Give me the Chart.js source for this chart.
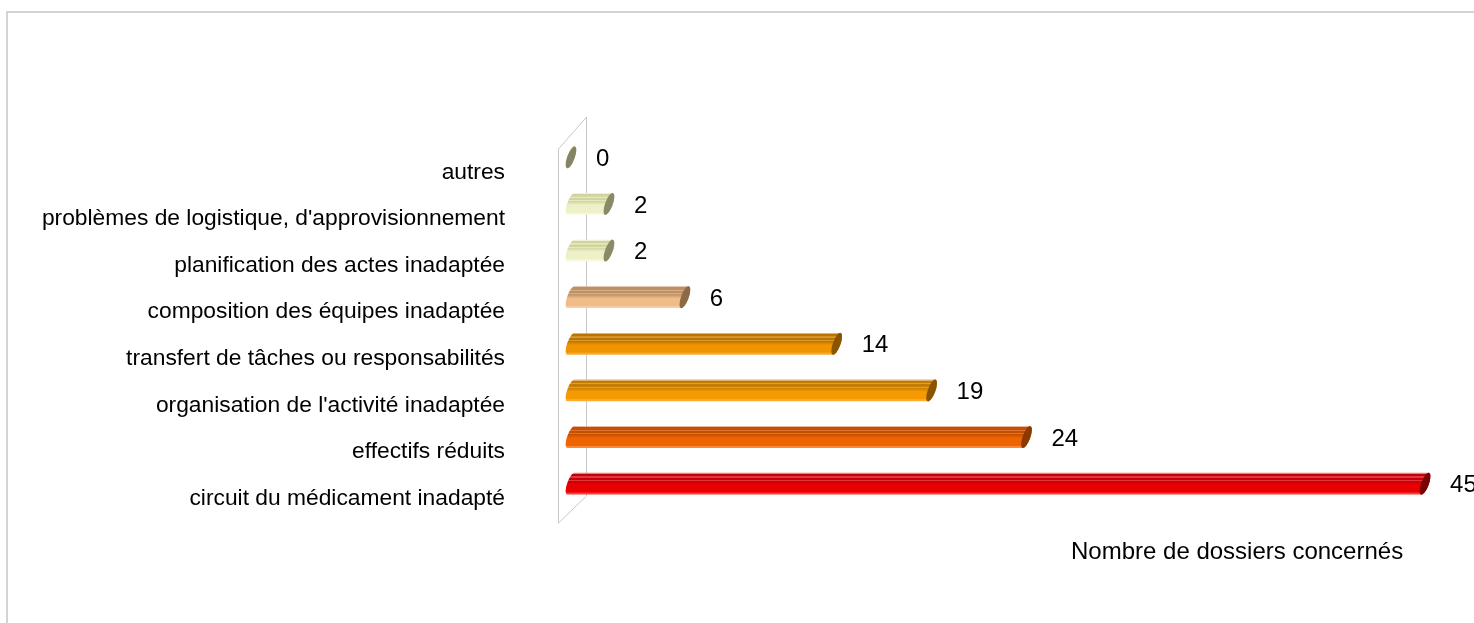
<!DOCTYPE html>
<html>
<head>
<meta charset="utf-8">
<script src="https://cdn.jsdelivr.net/npm/chart.js@4"></script>
<style>
  html, body { margin: 0; padding: 0; background: #fff; overflow: hidden; }
  #wrap { position: relative; width: 1474px; height: 623px; }
  #frame { position: absolute; left: 6px; top: 11px; width: 1500px; height: 700px;
           border-top: 2px solid #d4d4d4; border-left: 2px solid #d4d4d4; box-sizing: border-box; }
  canvas { position: absolute; left: 0; top: 0; }
</style>
</head>
<body>
<div id="wrap">
  <div id="frame"></div>
  <canvas id="c" width="1474" height="623"></canvas>
</div>
<script>
// ---- data ----
const categories = [
  "autres",
  "problèmes de logistique, d'approvisionnement",
  "planification des actes inadaptée",
  "composition des équipes inadaptée",
  "transfert de tâches ou responsabilités",
  "organisation de l'activité inadaptée",
  "effectifs réduits",
  "circuit du médicament inadapté"
];
const values = [0, 2, 2, 6, 14, 19, 24, 45];
const axisTitle = "Nombre de dossiers concernés";

// ---- styles ----
const palette = [
  { edge:'#c0c0a8', dark:'#7a7a5a', stripe:'#9a9a7a', main:'#a0a080', light:'#b0b090', cap:'#858566' },
  { edge:'#f0f0d8', dark:'#d2d4a0', stripe:'#e6e8c0', main:'#eef0c8', light:'#f6f8e0', cap:'#8a8a68' },
  { edge:'#f0f0d8', dark:'#d2d4a0', stripe:'#e6e8c0', main:'#eef0c8', light:'#f6f8e0', cap:'#8a8a68' },
  { edge:'#d8b898', dark:'#bc9064', stripe:'#d8ac84', main:'#f0bc88', light:'#f8cca0', cap:'#8a6a48' },
  { edge:'#e0b070', dark:'#bc7400', stripe:'#d89830', main:'#f09400', light:'#f8a830', cap:'#8a5400' },
  { edge:'#e0b070', dark:'#c47c00', stripe:'#e0a030', main:'#f59a00', light:'#ffae30', cap:'#8a5400' },
  { edge:'#e0a080', dark:'#c45000', stripe:'#e07030', main:'#f06400', light:'#ff8838', cap:'#8a3a00' },
  { edge:'#e08080', dark:'#c4000e', stripe:'#e03838', main:'#e80000', light:'#ff3838', cap:'#7a0000' }
];
const FONT = '"Liberation Sans", Arial, sans-serif';

const cylinders = {
  id: 'cylinders',
  beforeDatasetsDraw(chart) {
    const ctx = chart.ctx, a = chart.chartArea;
    const fx = a.left - 13, bx = a.left + 15;
    ctx.save();
    ctx.strokeStyle = '#c8c8c8';
    ctx.lineWidth = 1;
    ctx.beginPath();
    ctx.moveTo(bx + 0.5, a.top - 17);
    ctx.lineTo(bx + 0.5, a.bottom - 11);
    ctx.lineTo(fx + 0.5, a.bottom + 16);
    ctx.lineTo(fx + 0.5, a.top + 15);
    ctx.lineTo(bx + 0.5, a.top - 17);
    ctx.stroke();
    ctx.restore();
  },
  afterDatasetsDraw(chart) {
    const ctx = chart.ctx;
    const meta = chart.getDatasetMeta(0);
    const th = 0.35, rx = 3.8;
    meta.data.forEach((bar, i) => {
      const p = bar.getProps(['x', 'y', 'base', 'height'], true);
      const c = palette[i];
      const ry = p.height / 2 + 0.6;
      ctx.save();
      if (p.x - p.base > 0.5) {
        const g = ctx.createLinearGradient(0, p.y - p.height / 2, 0, p.y + p.height / 2);
        const st = [
          [0.00, c.edge], [0.05, c.edge], [0.06, c.dark], [0.16, c.dark],
          [0.17, c.stripe], [0.22, c.stripe], [0.23, c.dark], [0.32, c.dark],
          [0.33, c.stripe], [0.37, c.stripe], [0.38, c.dark], [0.55, c.main],
          [0.88, c.main], [0.92, c.light], [1.00, c.light]
        ];
        st.forEach(s => g.addColorStop(s[0], s[1]));
        ctx.beginPath();
        ctx.ellipse(p.base, p.y, rx, ry, th, -Math.PI / 2, Math.PI / 2, true);
        ctx.ellipse(p.x, p.y, rx, ry, th, Math.PI / 2, -Math.PI / 2, true);
        ctx.closePath();
        ctx.fillStyle = g;
        ctx.fill();
      }
      ctx.beginPath();
      ctx.ellipse(p.x, p.y, rx, ry, th, 0, Math.PI * 2);
      ctx.fillStyle = c.cap;
      ctx.fill();
      ctx.fillStyle = '#000';
      ctx.font = '24px ' + FONT;
      ctx.textAlign = 'left';
      ctx.textBaseline = 'middle';
      ctx.fillText(String(values[i]), p.x + 25, p.y + 2);
      ctx.restore();
    });
  },
  afterDraw(chart) {
    const ctx = chart.ctx;
    ctx.save();
    ctx.fillStyle = '#000';
    ctx.font = '24px ' + FONT;
    ctx.textAlign = 'left';
    ctx.textBaseline = 'middle';
    ctx.fillText(axisTitle, 1071, 552);
    ctx.restore();
  }
};

new Chart(document.getElementById('c'), {
  type: 'bar',
  data: {
    labels: categories,
    datasets: [{
      data: values,
      backgroundColor: 'rgba(0,0,0,0)',
      borderWidth: 0,
      barThickness: 22
    }]
  },
  options: {
    indexAxis: 'y',
    responsive: false,
    animation: false,
    layout: { padding: { left: 0, top: 134, right: 11, bottom: 116 } },
    plugins: { legend: { display: false }, tooltip: { enabled: false } },
    scales: {
      x: { display: false, min: 0, max: 47 },
      y: {
        grid: { display: false, drawTicks: false },
        border: { display: false },
        ticks: {
          padding: 66,
          labelOffset: 15,
          color: '#000',
          font: { size: 22.8, family: FONT }
        },
        afterFit(scale) { scale.width = 571; }
      }
    }
  },
  plugins: [cylinders]
});
</script>
</body>
</html>
